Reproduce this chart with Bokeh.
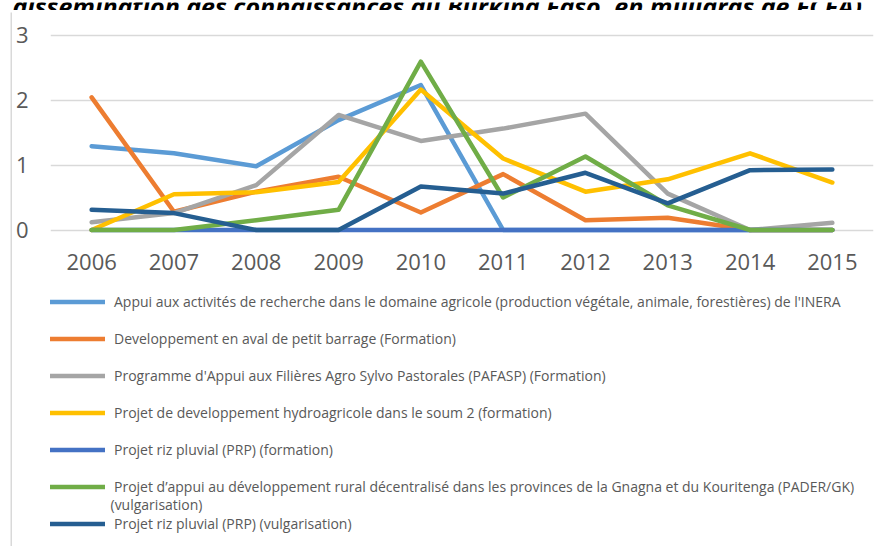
from bokeh.plotting import figure
from bokeh.layouts import column, row
from bokeh.models import (Range1d, FactorRange, Legend, LegendItem, Label, FixedTicker)
from bokeh.embed import file_html
from bokeh.resources import INLINE

years = ["2006", "2007", "2008", "2009", "2010", "2011", "2012", "2013", "2014", "2015"]

inera = [1.29, 1.18, 0.98, 1.69, 2.23, 0.0, 0.0, 0.0, 0.0, 0.0]
barrage = [2.04, 0.28, 0.59, 0.82, 0.27, 0.86, 0.15, 0.19, 0.0, 0.0]
pafasp = [0.12, 0.26, 0.69, 1.77, 1.37, 1.56, 1.79, 0.56, 0.0, 0.11]
soum2 = [0.0, 0.55, 0.58, 0.74, 2.16, 1.10, 0.59, 0.78, 1.18, 0.73]
prp_formation = [0.0, 0.0, 0.0, 0.0, 0.0, 0.0, 0.0, 0.0, 0.0, 0.0]
pader = [0.0, 0.0, 0.15, 0.31, 2.59, 0.50, 1.13, 0.38, 0.0, 0.0]
prp_vulg = [0.31, 0.26, 0.0, 0.0, 0.67, 0.56, 0.88, 0.41, 0.92, 0.93]

labels = [
    "Appui aux activités de recherche dans le domaine agricole (production végétale, animale, forestières) de l'INERA",
    "Developpement en aval de petit barrage (Formation)",
    "Programme d'Appui aux Filières Agro Sylvo Pastorales (PAFASP) (Formation)",
    "Projet de developpement hydroagricole dans le soum 2 (formation)",
    "Projet riz pluvial (PRP) (formation)",
    "Projet d’appui au développement rural décentralisé dans les provinces de la Gnagna et du Kouritenga (PADER/GK)",
    "Projet riz pluvial (PRP) (vulgarisation)",
]
label_extra = "(vulgarisation)"
title_text = "dissémination des connaissances du Burkina Faso, en milliards de FCFA)"
series = [inera, barrage, pafasp, soum2, prp_formation, pader, prp_vulg]
colors = ["#5B9BD5", "#ED7D31", "#A5A5A5", "#FFC000", "#4472C4", "#70AD47", "#255E91"]
y_ticks = [0, 1, 2, 3]

BORDER = "#d9d9d9"
TEXT = "#595959"


def blank(w, h, color="white", **kw):
    f = figure(width=w, height=h, toolbar_location=None, output_backend="svg",
               x_axis_location=None, y_axis_location=None, min_border=0,
               background_fill_color=color, border_fill_color=color,
               outline_line_color=None, **kw)
    f.grid.visible = False
    return f


# title strip (partly cut off at the top, as in the reference)
fig_t = blank(879, 10)
fig_t.add_layout(Label(x=12, y=3, x_units="canvas", y_units="canvas", text=title_text,
                       text_font="Open Sans", text_font_size="25px",
                       text_font_style="bold italic", text_color="black",
                       text_baseline="alphabetic"))

# main chart
p = figure(width=867, height=270, x_range=FactorRange(*years, range_padding=0),
           y_range=Range1d(-0.1, 3.1), output_backend="svg", toolbar_location=None,
           min_border_left=37, min_border_right=6, min_border_top=16, min_border_bottom=46)
p.outline_line_color = None
p.background_fill_color = "white"
p.border_fill_color = "white"
for ax in (p.xaxis[0], p.yaxis[0]):
    ax.axis_line_color = None
    ax.major_tick_line_color = None
    ax.minor_tick_line_color = None
    ax.major_tick_in = 0
    ax.major_tick_out = 0
    ax.major_label_text_font = "Open Sans"
    ax.major_label_text_font_size = "22px"
    ax.major_label_text_color = TEXT
p.yaxis.ticker = FixedTicker(ticks=y_ticks)
p.yaxis.major_label_standoff = 22
p.xaxis.major_label_standoff = 17
p.xgrid.grid_line_color = None
p.ygrid.grid_line_color = BORDER
p.ygrid.grid_line_width = 1.5
p.ygrid.ticker = FixedTicker(ticks=y_ticks)

for s, c in zip(series, colors):
    p.line(x=years, y=s, line_color=c, line_width=4.5, line_join="round", line_cap="round")

# legend panel: same series drawn out of view, used only for legend swatches
fig_l = blank(867, 264, x_range=FactorRange(*years, range_padding=0), y_range=Range1d(10, 11))
items = []
for lab, s, c in zip(labels, series, colors):
    r = fig_l.line(x=years, y=s, line_color=c, line_width=4.5, line_cap="round")
    items.append(LegendItem(label=lab, renderers=[r]))
legend = Legend(items=items, location=(0, 13), orientation="vertical",
                glyph_width=55, glyph_height=19, label_height=19, label_standoff=9,
                spacing=18, padding=0, margin=0, border_line_color=None,
                background_fill_alpha=0, label_text_font="Open Sans",
                label_text_font_size="14px", label_text_color=TEXT)
fig_l.add_layout(legend)
fig_l.add_layout(Label(x=98, y=222, x_units="canvas", y_units="canvas", text=label_extra,
                       text_font="Open Sans", text_font_size="14px", text_color=TEXT,
                       text_baseline="middle"))

layout = column(
    fig_t,
    row(blank(10, 2), blank(869, 2, BORDER)),
    row(blank(10, 534), blank(2, 534, BORDER), column(p, fig_l)),
)

open("out.html", "w").write(file_html(layout, INLINE))
